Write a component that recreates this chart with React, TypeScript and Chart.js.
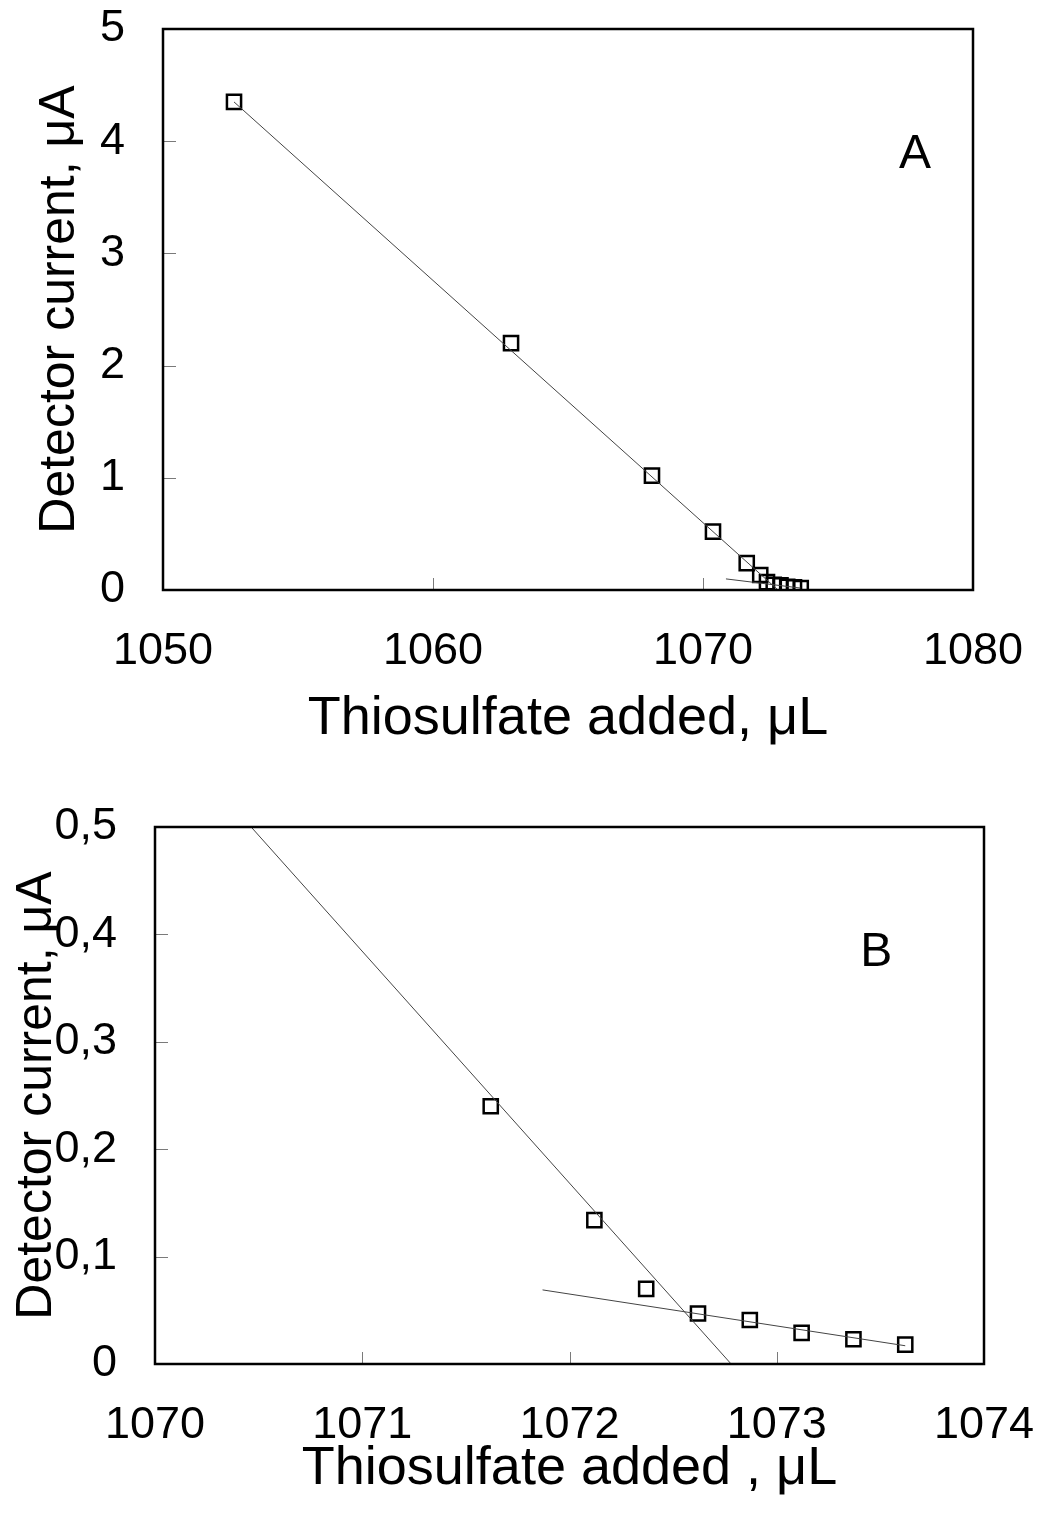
import React, { useEffect, useRef } from 'react';
import { Chart, registerables } from 'chart.js';

Chart.register(...registerables);

// Measured titration points (thiosulfate added, µL  /  detector current, µA)
const pointsX = [1052.63, 1062.89, 1068.11, 1070.37, 1071.62, 1072.12, 1072.37, 1072.62, 1072.87, 1073.12, 1073.37, 1073.62];
const pointsY = [4.35, 2.2, 1.02, 0.52, 0.24, 0.134, 0.07, 0.047, 0.041, 0.029, 0.023, 0.018];

// Fitted straight lines (end points)
const steepFitX = [1052.63, 1072.78];
const steepFitY = [4.35, 0];
const shallowFitAX = [1070.85, 1073.62];
const shallowFitAY = [0.099, 0.017];
const shallowFitBX = [1071.87, 1073.62];
const shallowFitBY = [0.069, 0.017];

// Axis ranges / ticks
const xRangeA = [1050, 1080];
const xStepA = 10;
const yRangeA = [0, 5];
const yStepA = 1;
const xRangeB = [1070, 1074];
const xStepB = 1;
const yRangeB = [0, 0.5];
const yStepB = 0.1;

const xTitleA = 'Thiosulfate added, \u03BCL';
const xTitleB = 'Thiosulfate added , \u03BCL';
const yTitle = 'Detector current, \u03BCA';

const FONT = '"Liberation Sans", Arial, sans-serif';

const toPts = (xs: number[], ys: number[]) => xs.map((x, i) => ({ x, y: ys[i] }));

const framePlugin = {
  id: 'frame',
  afterDatasetsDraw(chart: any, _args: any, opts: any) {
    const { ctx, chartArea: a, scales } = chart;
    const xs = scales.x;
    const ys = scales.y;
    ctx.save();
    ctx.strokeStyle = '#7a7a7a';
    ctx.lineWidth = 1;
    for (const t of xs.ticks) {
      const px = Math.round(xs.getPixelForValue(t.value)) + 0.5;
      if (px <= a.left + 2 || px >= a.right - 2) continue;
      ctx.beginPath();
      ctx.moveTo(px, a.bottom);
      ctx.lineTo(px, a.bottom - 12);
      ctx.stroke();
    }
    for (const t of ys.ticks) {
      const py = Math.round(ys.getPixelForValue(t.value)) + 0.5;
      if (py <= a.top + 2 || py >= a.bottom - 2) continue;
      ctx.beginPath();
      ctx.moveTo(a.left, py);
      ctx.lineTo(a.left + 13, py);
      ctx.stroke();
    }
    ctx.strokeStyle = '#000';
    ctx.lineWidth = 2.5;
    ctx.strokeRect(a.left, a.top, a.right - a.left, a.bottom - a.top);
    ctx.fillStyle = '#000';
    ctx.font = `48px ${FONT}`;
    ctx.textAlign = 'center';
    ctx.textBaseline = 'middle';
    ctx.fillText(opts.letter, xs.getPixelForValue(opts.lx), ys.getPixelForValue(opts.ly));
    ctx.restore();
  },
};

type Panel = {
  height: number;
  xr: number[];
  xstep: number;
  yr: number[];
  ystep: number;
  shallowX: number[];
  shallowY: number[];
  xTitle: string;
  yFmt: (v: number) => string;
  padTop: number;
  padRight: number;
  yWidth: number;
  xHeight: number;
  yTitlePad: number;
  xTitlePad: number;
  letter: string;
  lx: number;
  ly: number;
};

function buildConfig(p: Panel): any {
  return {
    type: 'scatter',
    data: {
      datasets: [
        {
          data: toPts(steepFitX, steepFitY),
          showLine: true,
          borderColor: '#444',
          borderWidth: 1,
          pointRadius: 0,
          fill: false,
        },
        {
          data: toPts(p.shallowX, p.shallowY),
          showLine: true,
          borderColor: '#444',
          borderWidth: 1,
          pointRadius: 0,
          fill: false,
        },
        {
          data: toPts(pointsX, pointsY),
          pointStyle: 'rect',
          pointRadius: 10,
          pointBorderWidth: 2.5,
          pointBorderColor: '#000',
          pointBackgroundColor: 'rgba(0,0,0,0)',
          showLine: false,
        },
      ],
    },
    options: {
      animation: false,
      responsive: false,
      devicePixelRatio: 1,
      layout: { autoPadding: false, padding: { left: 0, right: p.padRight, top: p.padTop, bottom: 0 } },
      plugins: {
        legend: { display: false },
        tooltip: { enabled: false },
        frame: { letter: p.letter, lx: p.lx, ly: p.ly },
      },
      scales: {
        x: {
          type: 'linear',
          min: p.xr[0],
          max: p.xr[1],
          grid: { display: false, drawTicks: false },
          border: { display: false },
          ticks: {
            stepSize: p.xstep,
            padding: 35,
            color: '#000',
            font: { family: FONT, size: 45 },
            maxRotation: 0,
            callback: (v: number) => String(v),
          },
          title: {
            display: true,
            text: p.xTitle,
            color: '#000',
            font: { family: FONT, size: 54, lineHeight: 1.2 },
            padding: { top: 0, bottom: p.xTitlePad },
          },
          afterFit: (s: any) => {
            s.height = p.xHeight;
            s.paddingLeft = 0;
            s.paddingRight = 0;
            s.paddingTop = 0;
            s.paddingBottom = 0;
          },
        },
        y: {
          type: 'linear',
          min: p.yr[0],
          max: p.yr[1],
          grid: { display: false, drawTicks: false },
          border: { display: false },
          ticks: {
            stepSize: p.ystep,
            padding: 38,
            color: '#000',
            font: { family: FONT, size: 45 },
            callback: (v: number) => p.yFmt(v),
          },
          title: {
            display: true,
            text: yTitle,
            color: '#000',
            font: { family: FONT, size: 50, lineHeight: 1.2 },
            padding: { top: p.yTitlePad, bottom: 0 },
          },
          afterFit: (s: any) => {
            s.width = p.yWidth;
            s.paddingLeft = 0;
            s.paddingRight = 0;
            s.paddingTop = 0;
            s.paddingBottom = 0;
          },
        },
      },
    },
    plugins: [framePlugin],
  };
}

const panelA: Panel = {
  height: 760,
  xr: xRangeA,
  xstep: xStepA,
  yr: yRangeA,
  ystep: yStepA,
  shallowX: shallowFitAX,
  shallowY: shallowFitAY,
  xTitle: xTitleA,
  yFmt: (v) => String(Math.round(v)),
  padTop: 29,
  padRight: 64,
  yWidth: 163,
  xHeight: 170,
  yTitlePad: 30,
  xTitlePad: 8,
  letter: 'A',
  lx: 1077.85,
  ly: 3.88,
};

const panelB: Panel = {
  height: 755,
  xr: xRangeB,
  xstep: xStepB,
  yr: yRangeB,
  ystep: yStepB,
  shallowX: shallowFitBX,
  shallowY: shallowFitBY,
  xTitle: xTitleB,
  yFmt: (v) => (Math.abs(v) < 1e-9 ? '0' : v.toFixed(1).replace('.', ',')),
  padTop: 67,
  padRight: 53,
  yWidth: 155,
  xHeight: 151,
  yTitlePad: 7,
  xTitlePad: 13,
  letter: 'B',
  lx: 1073.48,
  ly: 0.383,
};

function PanelChart({ panel }: { panel: Panel }) {
  const ref = useRef<HTMLCanvasElement | null>(null);
  useEffect(() => {
    if (!ref.current) return;
    const chart = new Chart(ref.current, buildConfig(panel));
    return () => chart.destroy();
  }, [panel]);
  return (
    <canvas
      ref={ref}
      width={1037}
      height={panel.height}
      style={{ display: 'block', width: 1037, height: panel.height }}
    />
  );
}

export default function App() {
  return (
    <div style={{ position: 'absolute', left: 0, top: 0, width: 1037, height: 1515, background: '#fff' }}>
      <PanelChart panel={panelA} />
      <PanelChart panel={panelB} />
    </div>
  );
}
